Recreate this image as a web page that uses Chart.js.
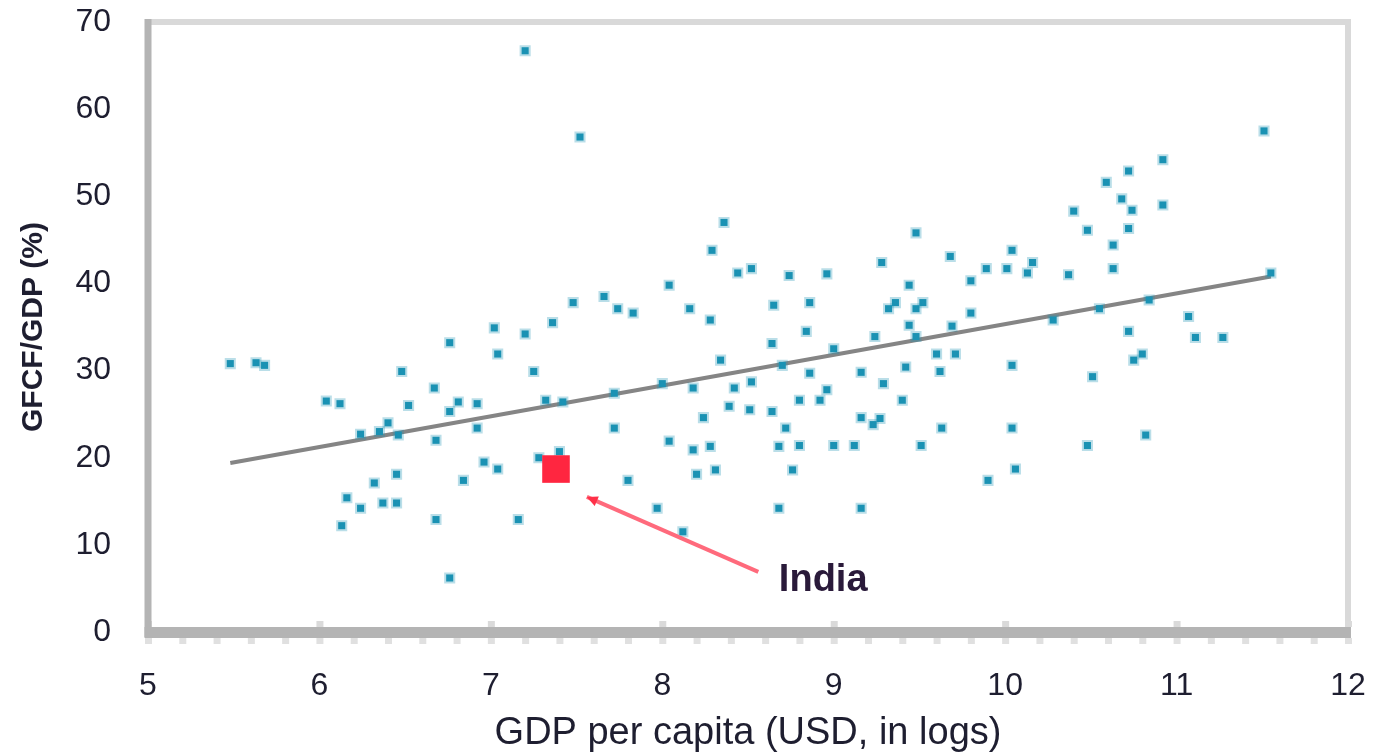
<!DOCTYPE html>
<html>
<head>
<meta charset="utf-8">
<script src="https://cdn.jsdelivr.net/npm/chart.js@4.4.1/dist/chart.umd.min.js"></script>
<style>
  html, body { margin: 0; padding: 0; background: #fff; }
  #wrap { width: 1377px; height: 753px; }
</style>
</head>
<body>
<div id="wrap"><canvas id="gdpChart" width="1377" height="753"></canvas></div>
<script>
// GDP per capita (log USD) for each country
var gdpLog = [
    7.20, 7.52, 7.48, 7.36, 7.02, 7.20, 6.76, 7.04, 5.48, 5.63,
    5.68, 6.48, 7.25, 6.67, 6.04, 6.12, 6.52, 6.76, 6.81, 6.92,
    7.32, 7.42, 6.92, 6.68, 6.40, 6.24, 6.35, 6.46, 6.96, 7.04,
    7.40, 7.28, 6.45, 6.32, 6.84, 6.16, 6.37, 6.45, 6.24, 6.68,
    7.16, 6.13, 6.76, 8.36, 9.48, 8.29, 9.68, 8.52, 8.44, 9.28,
    8.74, 8.96, 8.04, 9.44, 9.80, 7.66, 9.52, 9.36, 9.32, 9.48,
    8.16, 7.74, 7.83, 8.28, 8.65, 8.86, 9.80, 9.69, 9.44, 8.84,
    8.64, 9.24, 9.48, 9.00, 9.60, 9.71, 8.34, 8.70, 8.52, 8.42,
    8.18, 8.00, 7.72, 8.86, 9.16, 9.42, 9.62, 8.96, 8.92, 8.80,
    9.29, 9.40, 8.39, 8.24, 8.51, 8.64, 9.16, 9.27, 9.23, 9.63,
    7.72, 8.72, 8.04, 8.28, 8.18, 8.68, 8.80, 9.00, 9.12, 9.51,
    8.31, 8.20, 8.76, 7.80, 7.97, 8.68, 9.16, 8.12, 11.51, 10.92,
    10.72, 10.59, 10.68, 10.92, 10.40, 10.74, 10.72, 10.48, 10.63, 10.04,
    10.16, 9.89, 10.01, 10.13, 10.37, 10.63, 11.55, 10.84, 10.55, 10.28,
    10.72, 11.07, 11.11, 11.27, 10.04, 10.80, 10.75, 10.51, 10.04, 10.82,
    10.48, 10.06, 9.90
];
// ratio to GDP (%) for the same countries
var ratio = [
    66.7, 56.8, 37.8, 35.5, 34.9, 34.2, 33.2, 31.9, 30.8, 30.9,
    30.6, 29.9, 29.9, 28.0, 26.5, 26.2, 26.0, 25.3, 26.4, 26.2,
    26.6, 26.4, 23.4, 22.0, 24.0, 22.7, 23.0, 22.6, 19.5, 18.7,
    20.7, 20.0, 18.1, 17.1, 17.4, 15.4, 14.8, 14.8, 14.2, 12.9,
    12.9, 12.2, 6.2, 47.0, 45.8, 43.8, 43.1, 41.7, 41.2, 42.4,
    40.9, 41.1, 39.8, 39.8, 40.3, 38.5, 37.8, 37.8, 37.1, 37.1,
    37.1, 37.1, 36.6, 35.8, 37.5, 37.8, 36.6, 35.1, 35.2, 34.5,
    33.1, 33.9, 33.9, 32.5, 31.9, 31.9, 31.2, 30.6, 28.7, 28.0,
    28.0, 28.5, 27.4, 29.7, 29.8, 30.4, 29.9, 27.8, 26.6, 26.6,
    28.5, 26.6, 25.9, 24.6, 25.5, 25.3, 24.6, 24.5, 23.8, 23.4,
    23.4, 23.4, 21.9, 21.3, 20.9, 21.3, 21.4, 21.4, 21.4, 21.4,
    18.6, 18.1, 18.6, 17.4, 14.2, 14.2, 14.2, 11.5, 57.5, 54.2,
    52.9, 51.6, 49.7, 49.0, 48.3, 48.4, 46.3, 46.1, 44.4, 43.8,
    42.4, 41.7, 41.7, 41.2, 41.0, 41.7, 41.2, 38.1, 37.1, 35.8,
    34.5, 36.2, 33.8, 33.8, 30.6, 31.9, 31.2, 29.3, 23.4, 22.6,
    21.4, 18.7, 17.4
];

var indiaX = [7.38];
var indiaY = [18.7];

// fitted line end points
var trendX = [5.48, 11.55];
var trendY = [19.4, 40.8];

// arrow from India to its label
var arrowX = [7.56, 8.56];
var arrowY = [15.5, 6.9];
var labelX = [8.68];
var labelY = [5.9];
var labelText = ['India'];

var xTicks = [5, 6, 7, 8, 9, 10, 11, 12];
var yTicks = [0, 10, 20, 30, 40, 50, 60, 70];

var FONT = '"Liberation Sans", Arial, sans-serif';

function toPoints(xs, ys) {
    return xs.map(function (x, i) { return { x: x, y: ys[i] }; });
}

var framePlugin = {
    id: 'frame',
    beforeDatasetsDraw: function (chart) {
        var ctx = chart.ctx;
        var a = chart.chartArea;
        var xs = chart.scales.x;
        ctx.save();
        // top and right border
        ctx.fillStyle = '#d9d9d9';
        ctx.fillRect(a.left, a.top - 3, a.right - a.left + 3, 6);
        ctx.fillRect(a.right - 3, a.top - 3, 6, a.bottom - a.top + 3);
        // minor ticks under the axis
        ctx.fillStyle = '#e0e0e0';
        for (var v = 5; v <= 12.001; v += 0.2) {
            var px = xs.getPixelForValue(v);
            ctx.fillRect(px - 3, a.bottom + 6, 7, 6);
        }
        // major ticks above the axis
        ctx.fillStyle = '#dadada';
        xTicks.forEach(function (t) {
            var px = xs.getPixelForValue(t);
            ctx.fillRect(px - 3, a.bottom - 11, 7, 6);
        });
        // left and bottom axis lines
        ctx.fillStyle = '#b4b4b4';
        ctx.fillRect(a.left - 3.5, a.top - 3, 7, a.bottom - a.top + 8);
        ctx.fillRect(a.left - 3.5, a.bottom - 5, a.right - a.left + 6.5, 11);
        ctx.restore();
    },
    afterDatasetsDraw: function (chart) {
        var ctx = chart.ctx;
        var xs = chart.scales.x, ys = chart.scales.y;
        ctx.save();
        // arrow head at India end
        var x0 = xs.getPixelForValue(arrowX[0]), y0 = ys.getPixelForValue(arrowY[0]);
        var x1 = xs.getPixelForValue(arrowX[1]), y1 = ys.getPixelForValue(arrowY[1]);
        var ang = Math.atan2(y0 - y1, x0 - x1);
        ctx.fillStyle = '#ff3048';
        ctx.beginPath();
        ctx.moveTo(x0, y0);
        ctx.lineTo(x0 - 12 * Math.cos(ang - 0.45), y0 - 12 * Math.sin(ang - 0.45));
        ctx.lineTo(x0 - 12 * Math.cos(ang + 0.45), y0 - 12 * Math.sin(ang + 0.45));
        ctx.closePath();
        ctx.fill();
        // label
        ctx.fillStyle = '#2a1a3a';
        ctx.font = 'bold 38px ' + FONT;
        ctx.textAlign = 'left';
        ctx.textBaseline = 'middle';
        ctx.fillText(labelText[0], xs.getPixelForValue(labelX[0]), ys.getPixelForValue(labelY[0]));
        ctx.restore();
    }
};

var ctx = document.getElementById('gdpChart').getContext('2d');
new Chart(ctx, {
    type: 'scatter',
    data: {
        datasets: [{
            label: 'India',
            data: toPoints(indiaX, indiaY),
            pointStyle: 'rect',
            pointRadius: 19.5,
            backgroundColor: '#ff2640',
            borderWidth: 0,
            order: 0
        }, {
            label: 'Arrow',
            type: 'line',
            data: toPoints(arrowX, arrowY),
            borderColor: '#ff6a7c',
            borderWidth: 4,
            pointRadius: 0,
            order: 1
        }, {
            label: 'Countries',
            data: toPoints(gdpLog, ratio),
            pointStyle: 'rect',
            pointRadius: 5,
            backgroundColor: '#1b92b4',
            borderColor: 'rgba(27,146,180,0.3)',
            borderWidth: 4,
            order: 2
        }, {
            label: 'Trend',
            type: 'line',
            data: toPoints(trendX, trendY),
            borderColor: '#858585',
            borderWidth: 4,
            pointRadius: 0,
            order: 3
        }]
    },
    options: {
        responsive: false,
        animation: false,
        layout: {
            padding: { top: 22, right: 29, bottom: 0, left: 0 }
        },
        plugins: {
            legend: { display: false },
            tooltip: { enabled: false }
        },
        scales: {
            x: {
                type: 'linear',
                min: 5,
                max: 12,
                afterBuildTicks: function (scale) {
                    scale.ticks = xTicks.map(function (v) { return { value: v }; });
                },
                afterFit: function (scale) {
                    scale.height = 121;
                    scale.paddingLeft = 0;
                    scale.paddingRight = 0;
                },
                grid: { display: false, drawTicks: false },
                border: { display: false },
                ticks: {
                    padding: 35,
                    color: '#1e1e30',
                    font: { family: FONT, size: 32 }
                },
                title: {
                    display: true,
                    text: 'GDP per capita (USD, in logs)',
                    color: '#1e1e30',
                    padding: { top: 0, bottom: 0 },
                    font: { family: FONT, size: 38, lineHeight: 1 }
                }
            },
            y: {
                type: 'linear',
                min: 0,
                max: 70,
                afterBuildTicks: function (scale) {
                    scale.ticks = yTicks.map(function (v) { return { value: v }; });
                },
                afterFit: function (scale) {
                    scale.width = 148;
                    scale.paddingTop = 0;
                    scale.paddingBottom = 0;
                },
                grid: { display: false, drawTicks: false },
                border: { display: false },
                ticks: {
                    padding: 37,
                    color: '#1e1e30',
                    font: { family: FONT, size: 32 }
                },
                title: {
                    display: true,
                    text: 'GFCF/GDP (%)',
                    color: '#1e1e30',
                    padding: { top: 19, bottom: 0 },
                    font: { family: FONT, size: 30, weight: 'bold', lineHeight: 1 }
                }
            }
        }
    },
    plugins: [framePlugin]
});
</script>
</body>
</html>
